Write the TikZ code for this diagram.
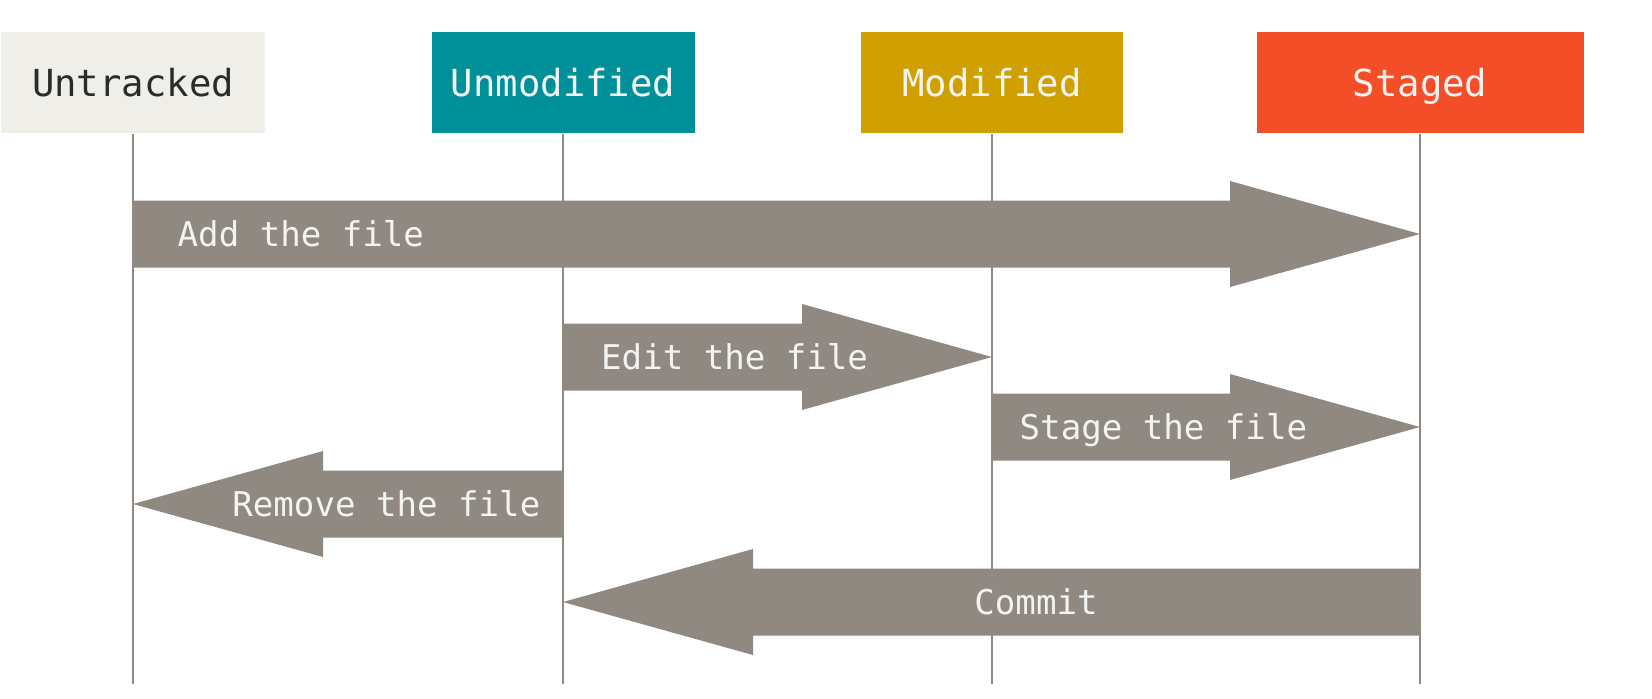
\documentclass[tikz,border=0pt]{standalone}
\usepackage{fontspec}
\setmonofont{DejaVu Sans Mono}
\usetikzlibrary{calc}

\definecolor{untrackedc}{HTML}{EFEEE8}
\definecolor{unmodifiedc}{HTML}{00909A}
\definecolor{modifiedc}{HTML}{CFA000}
\definecolor{stagedc}{HTML}{F44E29}
\definecolor{flowgray}{HTML}{8F8982}
\definecolor{inkdark}{HTML}{2B2B2B}
\definecolor{inklight}{HTML}{F3F3F1}

\begin{document}
\begin{tikzpicture}
  \tikzstyle{state}=[rectangle,inner sep=0pt,minimum height=1.01cm,font=\ttfamily\fontsize{10.6}{12}\selectfont,text height=7.9pt,text depth=0pt]
  \tikzstyle{lifeline}=[draw=flowgray,line width=0.6pt]
  \tikzstyle{flow}=[fill=flowgray]
  \tikzstyle{flowlabel}=[inner sep=0pt,text=inklight,font=\ttfamily\fontsize{9.7}{11}\selectfont,text height=7.2pt,text depth=0pt]

  \useasboundingbox (0,0) rectangle (16.52,-6.98);

  \foreach \name/\txt/\x/\w/\col/\ink in {untracked/Untracked/1.33/2.63/untrackedc/inkdark,unmodified/Unmodified/5.63/2.63/unmodifiedc/inklight,modified/Modified/9.92/2.62/modifiedc/inklight,staged/Staged/14.2/3.27/stagedc/inklight}
    \node[state,fill=\col,text=\ink,minimum width=\w cm] (\name) at (\x,-0.825) {\txt};

  \foreach \name in {untracked,unmodified,modified,staged}
    \draw[lifeline] (\name.south) -- (\name.south |- 0,-6.84);

  % fat arrows between the lifelines
  \foreach \name/\tail/\tip/\y in {add/untracked/staged/2.34,edit/unmodified/modified/3.57,stage/modified/staged/4.27,remove/unmodified/untracked/5.04,commit/staged/unmodified/6.02} {
    \coordinate (\name-from) at (\tail |- 0,-\y);
    \coordinate (\name-to) at (\tip |- 0,-\y);
    \coordinate (\name-base) at ($(\name-to)!1.9cm!(\name-from)$);
    \fill[flow] ($(\name-from)+(0,0.335)$) -- ($(\name-base)+(0,0.335)$) -- ($(\name-base)+(0,0.53)$) -- (\name-to)
      -- ($(\name-base)+(0,-0.53)$) -- ($(\name-base)+(0,-0.335)$) -- ($(\name-from)+(0,-0.335)$) -- cycle;
  }

  \node[flowlabel,anchor=west] (add-label) at ($(add-from)+(0.44,0)$) {Add the file};
  \node[flowlabel,anchor=west] (edit-label) at ($(edit-from)+(0.375,0)$) {Edit the file};
  \node[flowlabel,anchor=west] (stage-label) at ($(stage-from)+(0.27,0)$) {Stage the file};
  \node[flowlabel,anchor=east] (remove-label) at ($(remove-from)+(-0.22,0)$) {Remove the file};
  \node[flowlabel] (commit-label) at ($(commit-from)+(-3.84,0)$) {Commit};
\end{tikzpicture}
\end{document}
